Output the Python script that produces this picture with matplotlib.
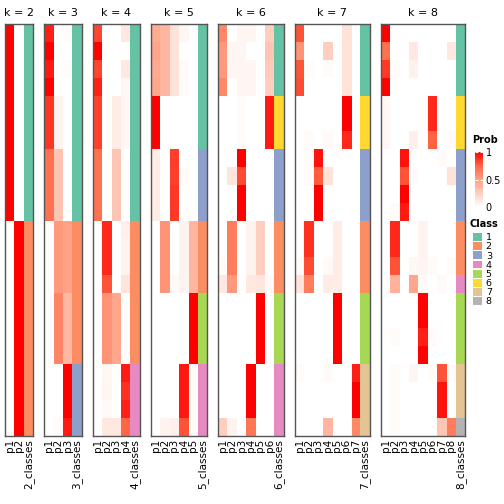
import matplotlib
matplotlib.use('Agg')
import matplotlib.pyplot as plt
import numpy as np
from matplotlib.colors import LinearSegmentedColormap, ListedColormap, BoundaryNorm
from matplotlib.patches import Patch

# class colours (1..8)
class_colors = ['#66C2A5', '#FC8D62', '#8DA0CB', '#E78AC3',
                '#A6D854', '#FFD92F', '#E5C494', '#B3B3B3']
class_labels = ['1', '2', '3', '4', '5', '6', '7', '8']

# membership probabilities, one row per sample (23 samples), one column per class
prob_k2 = [[1, 0]] * 11 + [[0, 1]] * 12
prob_k3 = ([[0.92, 0, 0.02], [1, 0, 0], [0.93, 0, 0.02], [1, 0, 0]]
           + [[0.87, 0.06, 0]] * 3 + [[0.7, 0.3, 0]] * 4
           + [[0, 0.52, 0.48]] * 4 + [[0, 0.62, 0.36]] * 4
           + [[0, 0, 1]] * 3 + [[0, 0.02, 0.93]])
prob_k4 = ([[0.83, 0, 0, 0.12], [1, 0, 0, 0], [0.83, 0, 0, 0.12], [0.92, 0, 0, 0.04]]
           + [[0.84, 0, 0.1, 0.04]] * 3 + [[0.7, 0, 0.3, 0]] * 4
           + [[0, 0.9, 0, 0.08]] + [[0, 0.9, 0, 0.06]] * 2 + [[0, 0.8, 0, 0.14]]
           + [[0, 0.55, 0.45, 0]] * 4
           + [[0, 0.04, 0, 0.93], [0, 0.05, 0, 0.88], [0, 0.03, 0, 0.92], [0, 0.12, 0.12, 0.75]])
prob_k5 = ([[0.43, 0.38, 0.15, 0.04, 0], [0.47, 0.38, 0.15, 0, 0],
            [0.44, 0.38, 0.15, 0.03, 0], [0.45, 0.38, 0.15, 0.02, 0]]
           + [[1, 0, 0, 0, 0]] * 3
           + [[0.1, 0, 0.85, 0, 0], [0.1, 0, 0.84, 0.03, 0]] + [[0.1, 0, 0.86, 0, 0]] * 2
           + [[0, 0.55, 0, 0.06, 0.38]] * 3 + [[0, 0.55, 0.03, 0.06, 0.38]]
           + [[0, 0, 0, 0, 1]] * 4
           + [[0, 0, 0, 0.94, 0.02]] * 3 + [[0, 0.06, 0.08, 0.8, 0.02]])
prob_k6 = ([[0.6, 0, 0.05, 0.05, 0, 0.25], [0.52, 0.05, 0.05, 0, 0, 0.3],
            [0.52, 0.05, 0.05, 0.05, 0, 0.27], [0.6, 0, 0.05, 0.05, 0, 0.25]]
           + [[0, 0, 0.02, 0, 0, 0.93]] * 3
           + [[0, 0, 1, 0, 0, 0], [0, 0.13, 0.82, 0, 0, 0]] + [[0, 0, 1, 0, 0, 0]] * 2
           + [[0, 0.65, 0, 0.06, 0.25, 0]] * 2
           + [[0.02, 0.65, 0, 0.06, 0.25, 0], [0.12, 0.52, 0, 0.12, 0.13, 0.03]]
           + [[0, 0, 0, 0, 1, 0]] * 4
           + [[0, 0, 0, 1, 0, 0]] * 3 + [[0.25, 0.06, 0, 0.68, 0, 0]])
prob_k7 = ([[0.8, 0, 0, 0, 0, 0.15, 0], [0.55, 0, 0, 0.25, 0, 0.15, 0],
            [0.8, 0.02, 0, 0.02, 0, 0.15, 0], [0.82, 0, 0, 0, 0, 0.15, 0]]
           + [[0, 0, 0, 0, 0, 1, 0]] * 2 + [[0, 0.02, 0, 0.03, 0, 0.9, 0]]
           + [[0, 0.02, 0.95, 0, 0, 0, 0], [0, 0.02, 0.78, 0.15, 0, 0, 0]]
           + [[0, 0, 1, 0, 0, 0, 0]] * 2
           + [[0, 0.88, 0, 0, 0.1, 0, 0]] * 2
           + [[0.02, 0.82, 0, 0.03, 0.1, 0, 0], [0.14, 0.65, 0, 0.1, 0.1, 0, 0]]
           + [[0, 0, 0, 0, 1, 0, 0]] * 4
           + [[0.02, 0, 0, 0.03, 0, 0, 0.92]] + [[0, 0, 0, 0, 0, 0, 1]] * 2
           + [[0, 0, 0, 0.38, 0, 0, 0.6]])
prob_k8 = ([[1, 0, 0, 0, 0, 0, 0, 0], [0.7, 0, 0, 0.12, 0, 0, 0, 0.12],
            [0.86, 0.02, 0, 0.07, 0, 0, 0, 0], [1, 0, 0, 0, 0, 0, 0, 0]]
           + [[0.04, 0, 0, 0, 0, 0.9, 0, 0]] * 2 + [[0.04, 0, 0, 0.08, 0, 0.76, 0, 0.03]]
           + [[0, 0, 0.95, 0, 0, 0, 0.02, 0], [0, 0, 0.8, 0.03, 0, 0, 0, 0.15],
              [0, 0, 1, 0, 0, 0, 0, 0], [0, 0.02, 0.93, 0, 0, 0, 0, 0]]
           + [[0, 0.9, 0, 0, 0.06, 0, 0, 0]] * 2
           + [[0, 0.8, 0, 0.04, 0.05, 0.02, 0, 0.02], [0, 0.4, 0, 0.46, 0.03, 0, 0.03, 0]]
           + [[0, 0, 0, 0, 1, 0, 0, 0]] * 2 + [[0, 0.02, 0, 0, 0.92, 0.03, 0, 0]]
           + [[0, 0, 0, 0, 1, 0, 0, 0]]
           + [[0, 0.02, 0, 0.05, 0, 0.02, 0.8, 0.02]] + [[0, 0.02, 0, 0, 0, 0, 0.95, 0]] * 2
           + [[0, 0.02, 0, 0, 0, 0, 0.3, 0.65]])

# assigned class per sample
class_k2 = [1] * 11 + [2] * 12
class_k3 = [1] * 11 + [2] * 8 + [3] * 4
class_k4 = [1] * 11 + [2] * 8 + [4] * 4
class_k5 = [1] * 7 + [3] * 4 + [2] * 4 + [5] * 4 + [4] * 4
class_k6 = [1] * 4 + [6] * 3 + [3] * 4 + [2] * 4 + [5] * 4 + [4] * 4
class_k7 = [1] * 4 + [6] * 3 + [3] * 4 + [2] * 4 + [5] * 4 + [7] * 4
class_k8 = [1] * 4 + [6] * 3 + [3] * 4 + [2] * 3 + [4] + [5] * 4 + [7] * 3 + [8]

ks = [2, 3, 4, 5, 6, 7, 8]
probs = [prob_k2, prob_k3, prob_k4, prob_k5, prob_k6, prob_k7, prob_k8]
classes = [class_k2, class_k3, class_k4, class_k5, class_k6, class_k7, class_k8]

# white -> red, interpolated in LAB like ComplexHeatmap
prob_cmap = LinearSegmentedColormap.from_list(
    'prob', [(0, '#FFFFFF'), (0.25, '#FFCFBF'), (0.5, '#FF9E82'),
             (0.75, '#FF6846'), (1, '#FF0000')])
cls_cmap = ListedColormap(class_colors)
cls_norm = BoundaryNorm(np.arange(0.5, 9.5, 1), cls_cmap.N)

W, H = 504, 504
fig = plt.figure(figsize=(W / 100, H / 100), dpi=100)

def px_axes(x, y, w, h):
    # pixel box (from top-left) -> figure axes
    return fig.add_axes([x / W, 1 - (y + h) / H, w / W, h / H])

colw, gap = 9.34, 11.3
top, bottom = 24, 436
x = 5
for k, pr, cl in zip(ks, probs, classes):
    pr = np.array(pr, dtype=float)
    cl = np.array(cl)[:, None]
    n = pr.shape[0]
    ax = px_axes(x, top, (k + 1) * colw, bottom - top)
    ax.imshow(pr, cmap=prob_cmap, vmin=0, vmax=1, aspect='auto',
              interpolation='nearest', extent=(0, k, n, 0))
    ax.imshow(cl, cmap=cls_cmap, norm=cls_norm, aspect='auto',
              interpolation='nearest', extent=(k, k + 1, n, 0))
    ax.set_xlim(0, k + 1)
    ax.set_ylim(n, 0)
    ax.set_yticks([])
    ax.set_xticks(np.arange(k + 1) + 0.5)
    ax.set_xticklabels(['p%d' % (i + 1) for i in range(k)] + ['%d_classes' % k],
                       rotation=90, fontsize=7.5)
    ax.tick_params(axis='x', length=0, pad=2)
    for s in ax.spines.values():
        s.set_color('#555555')
        s.set_linewidth(1)
    ax.set_title('k = %d' % k, fontsize=8, pad=6)
    x += (k + 1) * colw + gap

# probability colour bar
cax = px_axes(475, 152, 8, 55)
cb = fig.colorbar(plt.cm.ScalarMappable(cmap=prob_cmap, norm=plt.Normalize(0, 1)), cax=cax)
cb.outline.set_visible(False)
cb.set_ticks([0, 0.5, 1])
cb.set_ticklabels(['0', '0.5', '1'])
cax.tick_params(axis='y', direction='in', length=2, width=0.8, color='white',
                left=True, right=True, labelsize=7, pad=2)
fig.text(472 / W, 1 - 140 / H, 'Prob', fontsize=7, fontweight='bold', va='center', ha='left')

# class legend
fig.text(470 / W, 1 - 224 / H, 'Class', fontsize=7, fontweight='bold', va='center', ha='left')
handles = [Patch(facecolor=c, edgecolor='none') for c in class_colors]
leg = fig.legend(handles, class_labels, loc='upper left', bbox_to_anchor=(473 / W, 1 - 233 / H),
                 frameon=False, fontsize=6.8, alignment='left',
                 handlelength=0.9, handleheight=0.9, handletextpad=0.45,
                 labelspacing=0.0, borderpad=0.0, borderaxespad=0)

fig.savefig('out.png', dpi=100)
